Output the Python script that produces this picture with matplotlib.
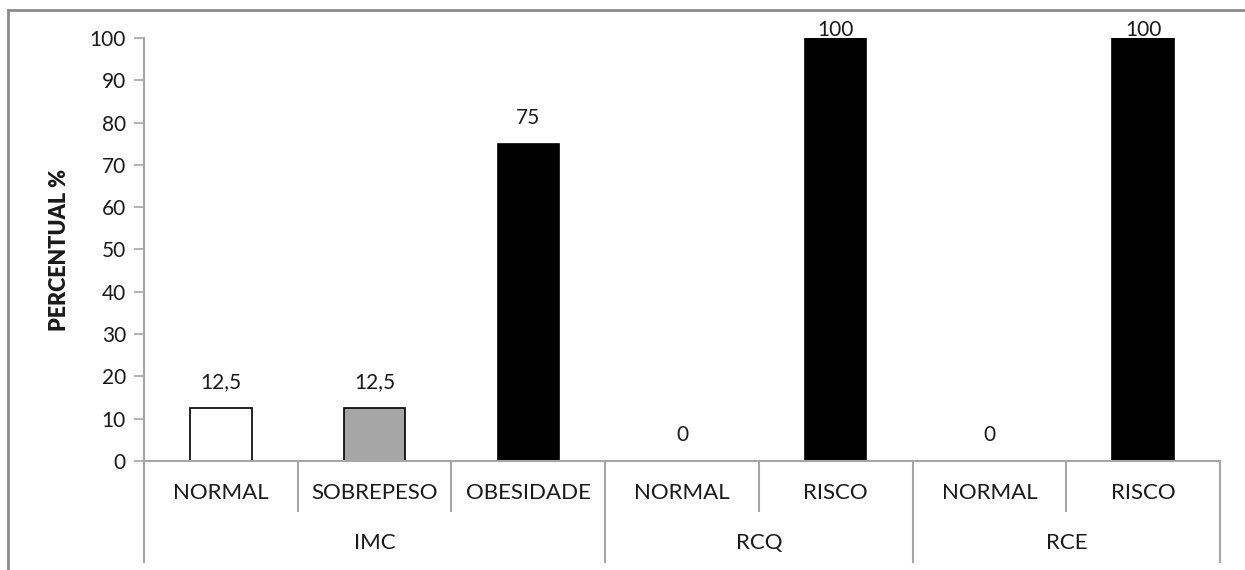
import matplotlib
matplotlib.use("Agg")
from matplotlib import pyplot as plt
from matplotlib.lines import Line2D
import numpy as np

plt.rcParams['font.family'] = ['Lato', 'DejaVu Sans']

categories = ['NORMAL', 'SOBREPESO', 'OBESIDADE', 'NORMAL', 'RISCO', 'NORMAL', 'RISCO']
values = [12.5, 12.5, 75, 0, 100, 0, 100]
value_labels = ['12,5', '12,5', '75', '0', '100', '0', '100']
groups = ['IMC', 'RCQ', 'RCE']
group_sizes = [3, 2, 2]
bar_colors = ['white', '#a6a6a6', 'black', 'black', 'black', 'black', 'black']

axis_grey = '#a6a6a6'
text_col = '#1a1a1a'
fs = 15
fs_cat = 16

fig = plt.figure(figsize=(12.45, 5.7), dpi=100)
ax = fig.add_axes([144 / 1245, 1 - 461 / 570, (1220 - 144) / 1245, (461 - 38) / 570])

x = np.arange(len(categories))
edge_w = [1.2 if v > 0 else 0 for v in values]
ax.bar(x, values, width=0.4, color=bar_colors, edgecolor='black', linewidth=edge_w, zorder=3)

ax.set_xlim(-0.5, len(categories) - 0.5)
ax.set_ylim(0, 100)
ax.set_yticks(np.arange(0, 101, 10))
ax.tick_params(axis='y', length=7, width=1.2, color=axis_grey, labelsize=fs,
               labelcolor=text_col, pad=6)
ax.set_xticks([])
for s in ['top', 'right']:
    ax.spines[s].set_visible(False)
for s in ['left', 'bottom']:
    ax.spines[s].set_color(axis_grey)
    ax.spines[s].set_linewidth(1.5)
ax.spines['bottom'].set_zorder(4)

ax.set_ylabel('PERCENTUAL %', fontsize=fs + 0.5, fontweight='heavy', color=text_col, labelpad=14)

# data labels (Excel keeps them inside the plot area)
for xi, v, lab in zip(x, values, value_labels):
    ax.text(xi, min(v + 6.1, 101.9), lab, ha='center', va='center', fontsize=fs,
            color=text_col, clip_on=False)

# category labels and separators
trans = ax.get_xaxis_transform()
for xi, c in zip(x, categories):
    ax.text(xi, -0.076, c, transform=trans, ha='center', va='center', fontsize=fs_cat,
            color=text_col, clip_on=False)

bounds = np.concatenate([[0], np.cumsum(group_sizes)])
group_edges = set(bounds.tolist())
for i in range(len(categories) + 1):
    bottom = -0.239 if i in group_edges else -0.118
    ax.add_line(Line2D([i - 0.5, i - 0.5], [0, bottom], transform=trans,
                       color=axis_grey, linewidth=1.5, clip_on=False))

for g, a, b in zip(groups, bounds[:-1], bounds[1:]):
    ax.text((a + b - 1) / 2, -0.194, g, transform=trans, ha='center', va='center',
            fontsize=fs_cat, color=text_col, clip_on=False)

# chart border (only top and left are visible in the crop)
fig.add_artist(Line2D([8 / 1245, 1], [1 - 9.5 / 570, 1 - 9.5 / 570], color='#8c8c8c', linewidth=2))
fig.add_artist(Line2D([8 / 1245, 8 / 1245], [0, 1 - 9.5 / 570], color='#8c8c8c', linewidth=2))

fig.savefig('out.png', dpi=100)
